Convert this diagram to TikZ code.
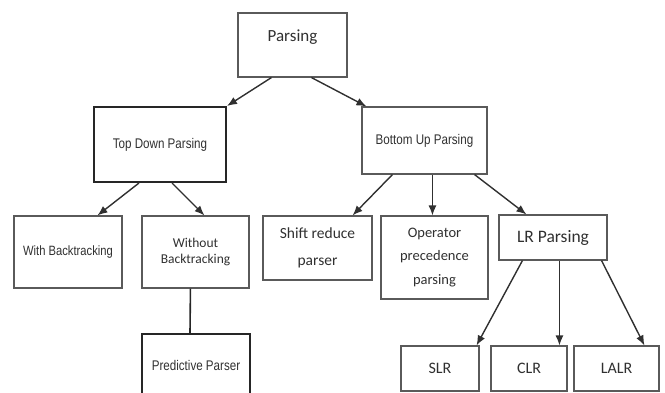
\documentclass[tikz,border=0pt]{standalone}
\usepackage{fontspec}
\usetikzlibrary{arrows.meta}
\newfontfamily\calibrifont{Carlito}
\newfontfamily\arialfont[FakeStretch=0.83]{Liberation Sans}
\definecolor{boxgray}{HTML}{5A5A5A}
\definecolor{textgray}{HTML}{303030}
\begin{document}
\begin{tikzpicture}[x=1pt, y=-1pt,
	box/.style={draw=boxgray, line width=1.1pt, inner sep=0pt, text=textgray, align=center},
	thickbox/.style={box, draw=black!85, line width=2pt},
	arr/.style={draw=textgray, line width=1.4pt, -{Latex[length=10pt,width=8pt]}},
	ar/.style={font=\arialfont\fontsize{14}{16}\selectfont},
	ca/.style={font=\calibrifont\fontsize{#1}{#1}\selectfont}]
	\useasboundingbox (0,0) rectangle (665,393);
	% top row
	\node[box, ca=17, minimum width=109, minimum height=64, text height=12, text depth=18] (parsing) at (292.5,45) {Parsing};
	\node[thickbox, ar, minimum width=132, minimum height=75] (topdown) at (160,144.5) {Top Down Parsing};
	\node[box, ar, minimum width=125, minimum height=67] (bottomup) at (424.5,140.5) {Bottom Up Parsing};
	% second row
	\node[box, ar, font=\arialfont\fontsize{13.5}{16}\selectfont, minimum width=108, minimum height=72] (with) at (68,252) {With Backtracking};
	\node[box, ca=13.5, minimum width=107, minimum height=72] (without) at (195.5,252) {Without\\[3pt]Backtracking};
	\node[thickbox, ar, minimum width=108, minimum height=62] (predictive) at (196,365) {Predictive Parser};
	\node[box, ca=15.5, minimum width=109, minimum height=64] (shift) at (317.5,248) {Shift reduce\\[12pt]parser};
	\node[box, ca=14.5, minimum width=107, minimum height=83] (operator) at (434.5,257.5) {Operator\\[9pt]precedence\\[9pt]parsing};
	\node[box, ca=17.5, minimum width=108, minimum height=45] (lr) at (553,237.5) {LR Parsing};
	% LR family
	\node[box, ca=16, minimum width=78, minimum height=45] (slr) at (440,368.5) {SLR};
	\node[box, ca=16, minimum width=76, minimum height=45] (clr) at (529,368.5) {CLR};
	\node[box, ca=16, minimum width=85, minimum height=45] (lalr) at (616.5,368.5) {LALR};
	% connectors
	\draw[arr] ([xshift=34]parsing.south west) -- (topdown.north east);
	\draw[arr] ([xshift=74]parsing.south west) -- ([xshift=5]bottomup.north west);
	\draw[arr] ([xshift=46]topdown.south west) -- ([xshift=84]with.north west);
	\draw[arr] ([xshift=79]topdown.south west) -- ([xshift=63]without.north west);
	\draw[draw=black!85, line width=1.6pt] ([xshift=49]without.south west) -- ([xshift=49]predictive.north west);
	\draw[arr] ([xshift=31]bottomup.south west) -- ([xshift=-20]shift.north east);
	\draw[arr] ([xshift=71]bottomup.south west) -- ([xshift=52]operator.north west);
	\draw[arr] ([xshift=-13]bottomup.south east) -- ([xshift=28]lr.north west);
	\draw[arr] ([xshift=24]lr.south west) -- ([xshift=-3]slr.north east);
	\draw[arr] ([xshift=61]lr.south west) -- ([xshift=69]clr.north west);
	\draw[arr] ([xshift=-6]lr.south east) -- ([xshift=71]lalr.north west);
\end{tikzpicture}
\end{document}
